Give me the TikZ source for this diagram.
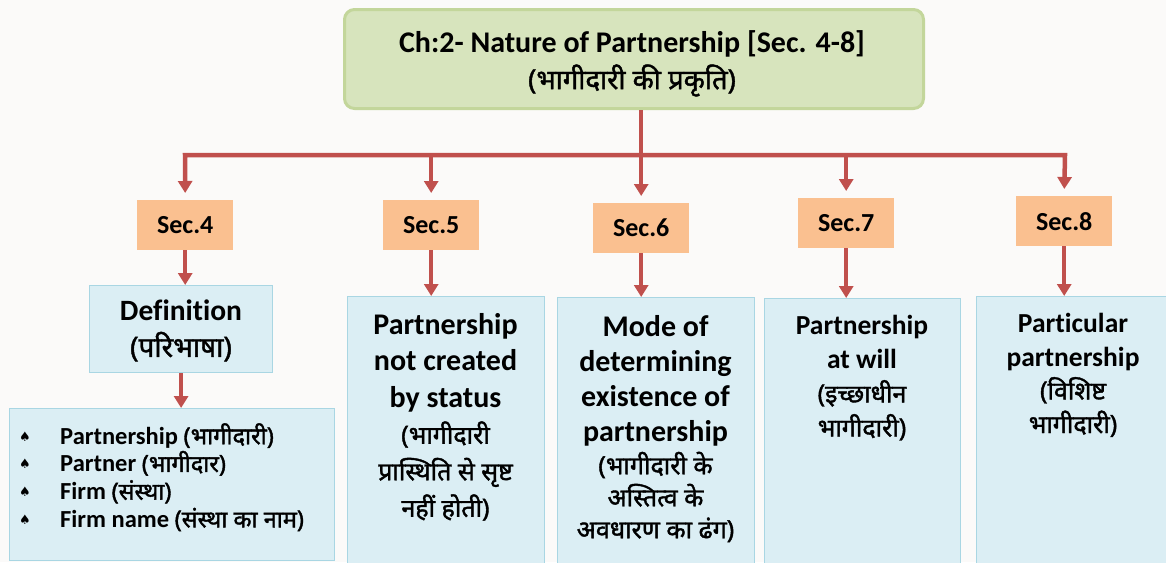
\documentclass[tikz,border=0pt]{standalone}
\usepackage{fontspec}
\setmainfont{Carlito}[Ligatures=NoCommon]
\newfontfamily\hin[Script=Devanagari,FakeBold=1.6]{Noto Sans}
\newfontfamily\djv{DejaVu Sans}
\usetikzlibrary{arrows.meta,positioning}
\definecolor{arrred}{HTML}{C0504D}
\definecolor{grfill}{HTML}{D7E4BD}
\definecolor{grline}{HTML}{C3D69B}
\definecolor{orfill}{HTML}{FAC090}
\definecolor{blfill}{HTML}{DBEEF4}
\definecolor{blline}{HTML}{A9D6E3}
\definecolor{bgcol}{HTML}{FBFAF9}
\tikzset{
  arr/.style={draw=arrred, line width=4.5pt, -{Triangle[width=14pt,length=12pt]}},
  lin/.style={draw=arrred, line width=4.5pt},
  topbox/.style={draw=grline, fill=grfill, line width=3pt, rounded corners=10pt, anchor=north west, inner sep=0pt},
  secbox/.style={fill=orfill, anchor=north west, inner sep=0pt, minimum width=96pt, minimum height=50pt, font=\fontsize{26}{28}\selectfont\bfseries},
  bluebox/.style={draw=blline, fill=blfill, line width=1.2pt, anchor=north west, inner sep=0pt},
  txt/.style={anchor=north, align=center, inner sep=0pt, font=\bfseries},
}
\newcommand{\hl}[2]{{\hin\fontsize{#1}{#1}\selectfont #2}}
\begin{document}
\begin{tikzpicture}[x=1pt,y=-1pt]
\clip (0,0) rectangle (1166,562);
\fill[bgcol] (0,0) rectangle (1166,562);
% top box
\node[topbox, minimum width=579pt, minimum height=99pt] (top) at (343,8) {};
\node[txt, font=\fontsize{30}{37}\selectfont\bfseries] (toptxt) at (632,30) {Ch:2- Nature of Partnership [Sec. 4-8]\\\hl{27.5}{(भागीदारी की प्रकृति)}};
% sec boxes
\node[secbox] (s4) at (137,200) {Sec.4};
\node[secbox] (s5) at (383,200) {Sec.5};
\node[secbox] (s6) at (593,203) {Sec.6};
\node[secbox] (s7) at (798,198) {Sec.7};
\node[secbox] (s8) at (1016,196) {Sec.8};
% connectors
\coordinate (bl) at (185,155);
\coordinate (br) at (1065,155);
\draw[lin] (top.south -| s6.north) -- (s6.north |- bl);
\draw[arr, shorten >=7pt] (s6.north |- bl) -- (bl) -- (s4.north);
\draw[arr, shorten >=7pt] (s6.north |- bl) -- (br) -- (s8.north);
\draw[arr, shorten >=7pt] (s5.north |- bl) -- (s5.north);
\draw[arr, shorten >=7pt] (s6.north |- bl) -- (s6.north);
\draw[arr, shorten >=7pt] (s7.north |- bl) -- (s7.north);
% blue boxes
\node[bluebox, minimum width=183pt, minimum height=87pt] (def) at (89,285) {};
\node[txt, font=\fontsize{29.5}{36}\selectfont\bfseries] (deftxt) at (181,300) {Definition\\\hl{28}{(परिभाषा)}};
\node[bluebox, minimum width=325pt, minimum height=152pt] (list) at (9,408) {};
\node[anchor=north west, align=left, inner sep=0pt, font=\fontsize{24.5}{27.7}\selectfont\bfseries] (listtxt) at (60,423) {Partnership \hl{23.5}{(भागीदारी)}\\Partner \hl{23.5}{(भागीदार)}\\Firm \hl{23.5}{(संस्था)}\\Firm name \hl{23.5}{(संस्था का नाम)}};
\foreach \i/\yy in {1/437,2/464,3/492,4/520}{
  \node[inner sep=0pt, font=\djv\fontsize{13}{13}\selectfont] (bul\i) at (25,\yy) {♠};
}
\node[bluebox, minimum width=197pt, minimum height=270pt] (b5) at (347,296) {};
\node[txt, font=\fontsize{30}{36.5}\selectfont\bfseries] (t5) at (445.5,313) {Partnership\\not created\\by status\\\hl{25}{(भागीदारी}\\\hl{25}{प्रास्थिति से सृष्ट}\\\hl{25}{नहीं होती)}};
\node[bluebox, minimum width=197pt, minimum height=270pt] (b6) at (557,297) {};
\node[txt, font=\fontsize{30}{35}\selectfont\bfseries] (t6) at (655.5,315) {Mode of\\determining\\existence of\\partnership\\[-2pt]\hl{25}{(भागीदारी के}\\[-3pt]\hl{25}{अस्तित्व के}\\[-3pt]\hl{25}{अवधारण का ढंग)}};
\node[bluebox, minimum width=196pt, minimum height=270pt] (b7) at (764,298) {};
\node[txt, font=\fontsize{27.5}{34}\selectfont\bfseries] (t7) at (862,315) {Partnership\\at will\\\hl{25}{(इच्छाधीन}\\\hl{25}{भागीदारी)}};
\node[bluebox, minimum width=192pt, minimum height=270pt] (b8) at (976,296) {};
\node[txt, font=\fontsize{27.5}{33.5}\selectfont\bfseries] (t8) at (1073,313) {Particular\\partnership\\\hl{25}{(विशिष्ट}\\\hl{25}{भागीदारी)}};
% lower arrows
\draw[arr] (s4.south) -- (s4.south |- def.north);
\draw[arr] (s5.south) -- (s5.south |- b5.north);
\draw[arr] (s6.south) -- (s6.south |- b6.north);
\draw[arr] (s7.south) -- (s7.south |- b7.north);
\draw[arr] (s8.south) -- (s8.south |- b8.north);
\draw[arr] (def.south) -- (def.south |- list.north);
\end{tikzpicture}
\end{document}
